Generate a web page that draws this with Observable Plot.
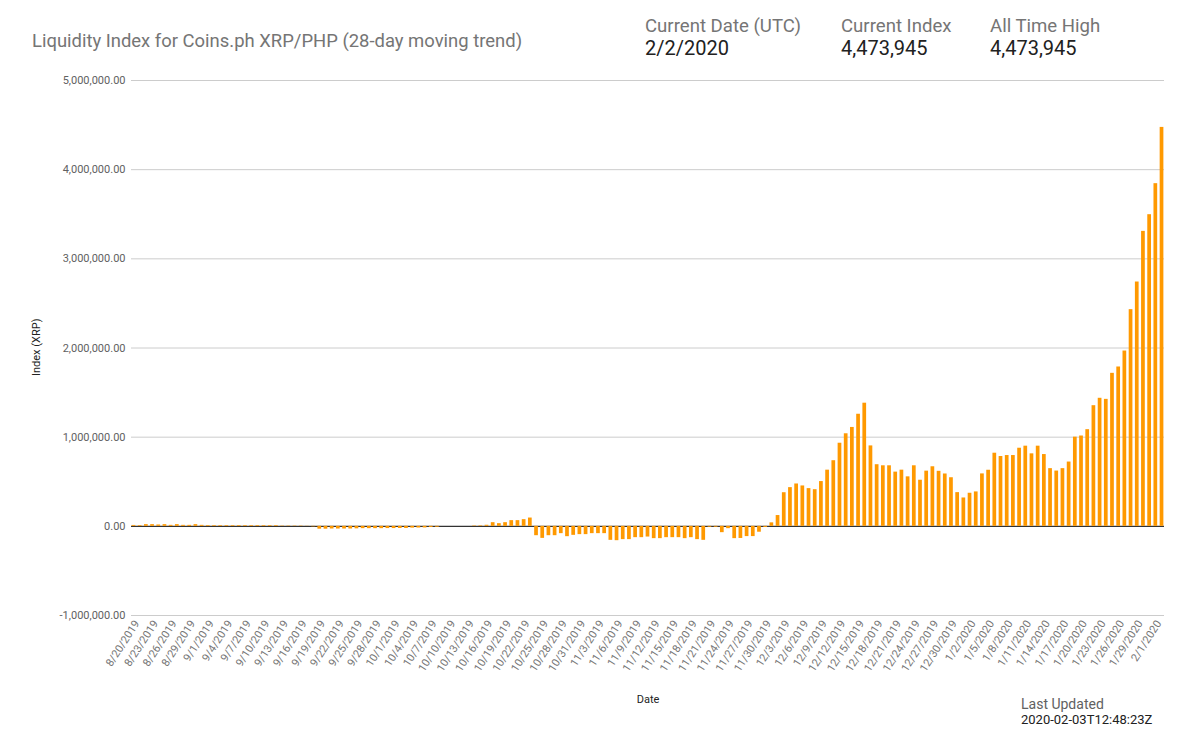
<!DOCTYPE html>
<html><head><meta charset="utf-8">
<script src="https://cdn.jsdelivr.net/npm/d3@7"></script>
<script src="https://cdn.jsdelivr.net/npm/@observablehq/plot@0.6"></script>
<style>
body{margin:0;background:#fff;font-family:Roboto,sans-serif}
#wrap{position:relative;width:1199px;height:738px;overflow:hidden}
.t{position:absolute;white-space:nowrap;line-height:1}
#chart{position:absolute;left:0;top:0}
</style></head><body>
<div id="wrap">
<div id="chart"></div>
<div class="t" style="left:32px;top:32.3px;font-size:18.45px;color:#757575">Liquidity Index for Coins.ph XRP/PHP (28-day moving trend)</div>
<div class="t" style="left:645px;top:16.5px;font-size:18.6px;color:#757575">Current Date (UTC)</div>
<div class="t" style="left:645px;top:37.5px;font-size:20px;color:#212121">2/2/2020</div>
<div class="t" style="left:841px;top:16.5px;font-size:18.6px;color:#757575">Current Index</div>
<div class="t" style="left:841px;top:37.5px;font-size:20px;color:#212121">4,473,945</div>
<div class="t" style="left:990px;top:16.5px;font-size:18.6px;color:#757575">All Time High</div>
<div class="t" style="left:990px;top:37.5px;font-size:20px;color:#212121">4,473,945</div>
<div class="t" style="left:1021px;top:697px;font-size:14px;color:#616161">Last Updated</div>
<div class="t" style="left:1021px;top:713px;font-size:13px;color:#212121">2020-02-03T12:48:23Z</div>
</div>
<script>
const startDate = "2019-08-20";
// 28-day moving liquidity index (XRP), one value per day from 8/20/2019 to 2/2/2020
const values = [
  10000, 8000, 19000, 19000, 15000, 19000, 11000, 19000, 11000, 11000,
  19000, 11000, 8000, 8000, 8000, 8000, 8000, 8000, 8000, 8000,
  8000, 8000, 8000, 8000, 4000, 4000, 4000, 4000, 2000, -5000,
  -32000, -32000, -30000, -30000, -30000, -30000, -28000, -26000, -26000, -26000,
  -26000, -25000, -25000, -24000, -24000, -20000, -19000, -18000, -12000, -10000,
  0, 0, 0, 0, 0, 5000, 6000, 12000, 41000, 30000,
  41000, 64000, 64000, 75000, 93000, -105000, -135000, -105000, -105000, -82000,
  -116000, -101000, -93000, -93000, -82000, -82000, -82000, -157000, -161000, -149000,
  -149000, -127000, -127000, -120000, -138000, -138000, -127000, -127000, -127000, -138000,
  -127000, -149000, -157000, -10000, -10000, -71000, -26000, -138000, -136000, -115000,
  -115000, -66000, -12000, 39000, 121000, 377000, 434000, 475000, 453000, 423000,
  411000, 502000, 630000, 736000, 932000, 1038000, 1109000, 1257000, 1381000, 902000,
  691000, 679000, 679000, 608000, 630000, 555000, 679000, 517000, 619000, 668000,
  617000, 587000, 545000, 378000, 318000, 371000, 386000, 588000, 629000, 820000,
  783000, 794000, 794000, 876000, 899000, 813000, 899000, 805000, 647000, 620000,
  647000, 721000, 1000000, 1013000, 1084000, 1353000, 1436000, 1424000, 1716000, 1787000,
  1966000, 2430000, 2740000, 3308000, 3495000, 3843000, 4473945
];
const yTicks = [-1000000, 0, 1000000, 2000000, 3000000, 4000000, 5000000];

const fmtDate = d3.utcFormat("%-m/%-d/%Y");
const start = new Date(startDate + "T00:00:00Z");
const labels = values.map((v, i) => fmtDate(d3.utcDay.offset(start, i)));
const xTicks = labels.filter((d, i) => i % 3 === 0);
const data = values.map((v, i) => ({label: labels[i], value: v}));
const f2 = d3.format(",.2f");
const fmtY = v => (v < 0 ? "-" : "") + f2(Math.abs(v));

const chart = Plot.plot({
  width: 1199, height: 738,
  marginTop: 80, marginBottom: 123, marginLeft: 131, marginRight: 35,
  style: {fontFamily: "Roboto, sans-serif", fontSize: "11px", background: "transparent", overflow: "visible"},
  x: {type: "band", domain: labels, paddingInner: 0.4, paddingOuter: 0.1, round: false},
  y: {domain: [-1000000, 5000000]},
  marks: [
    Plot.ruleY(yTicks.filter(d => d !== 0), {stroke: "#cccccc", strokeWidth: 1}),
    Plot.ruleY([0], {stroke: "#333333", strokeWidth: 1.3}),
    Plot.barY(data, {x: "label", y: "value", fill: "#ff9900"}),
    Plot.axisX({ticks: xTicks, tickRotate: -57, tickSize: 0, tickPadding: 6, dx: 3, label: null, fill: "#757575"}),
    Plot.axisY({ticks: yTicks, tickFormat: fmtY, tickSize: 0, tickPadding: 6, label: null, fill: "#616161"}),
    Plot.text(["Index (XRP)"], {frameAnchor: "left", dx: -95, dy: 28, rotate: -90, fill: "#222", fontSize: 11}),
    Plot.text(["Date"], {frameAnchor: "bottom", dy: 87, fill: "#222", fontSize: 11})
  ]
});
document.getElementById("chart").appendChild(chart);
</script>
</body></html>
